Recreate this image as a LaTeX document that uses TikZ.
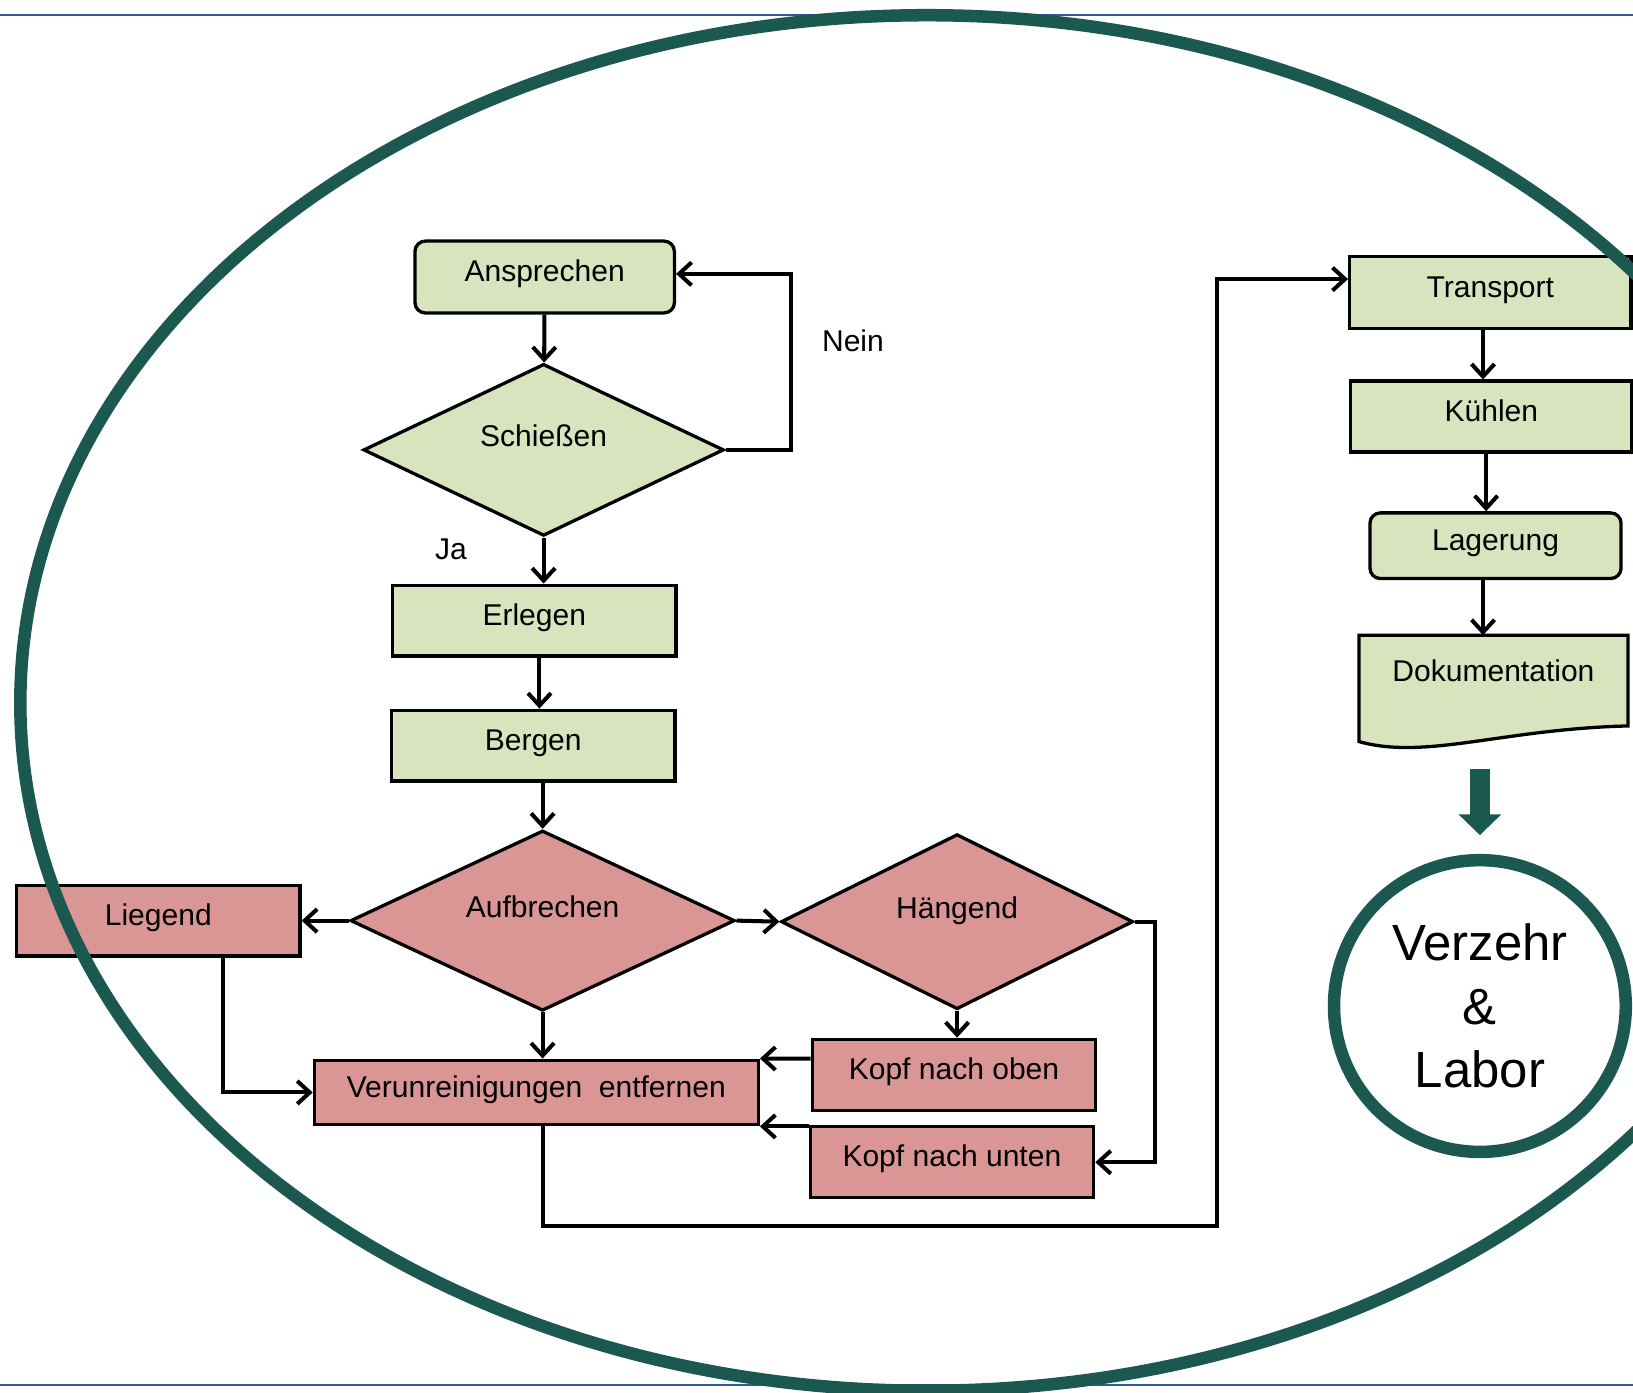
\documentclass[tikz,border=0pt]{standalone}
\usepackage{fontspec}
\setmainfont{Liberation Sans}
\usepackage{tikz}
\usetikzlibrary{shapes.geometric, arrows.meta, positioning, backgrounds}
\definecolor{boxgreen}{RGB}{215,228,189}
\definecolor{boxred}{RGB}{217,150,148}
\definecolor{rimgreen}{RGB}{27,88,80}
\definecolor{ruleblue}{RGB}{47,87,160}
\tikzset{x=0.01cm, y=-0.01cm,    % one unit is one pixel of the slide
         every node/.style={font=\fontsize{8.2}{9.8}\selectfont},
         box/.style={            % plain process step
           draw, line width=0.9pt, inner sep=0pt,
           minimum width=2.72cm, minimum height=0.68cm,
           text height=0.75em, text depth=0.5em},
         roundbox/.style={box, rounded corners=0.1cm},
         decision/.style={       % question, text sits high
           diamond, draw, line width=0.9pt, inner sep=0pt, shape aspect=2,
           text height=0.75em, text depth=0.93em},
         greenfill/.style={fill=boxgreen},
         redfill/.style={fill=boxred},
         flow/.style={           % ordinary connector
           draw, line width=1.1pt,
           -{Straight Barb[length=0.12cm,width=0.22cm]}},
         bigarrow/.style={
           draw=rimgreen, line width=0.19cm,
           -{Triangle[length=0.2cm,width=0.4cm]}},
         rim/.style={draw=rimgreen, line width=0.12cm}}

\begin{document}
\begin{tikzpicture}
\useasboundingbox (0,0) rectangle (1568,1337);
\clip (0,0) rectangle (1568,1337);
\draw[ruleblue, line width=0.02cm] (0,14) -- (1568,14) (0,1330) -- (1568,1330);

\node[roundbox, greenfill, minimum width=2.49cm, minimum height=0.69cm] (ansprechen) at (523,266) {Ansprechen};
\node[decision, greenfill, minimum width=3.46cm, minimum height=1.65cm] (schiessen) at (522,432) {Schießen};
\node[box, greenfill] (erlegen) at (513,596) {Erlegen};
\node[box, greenfill] (bergen) at (512,716) {Bergen};
\node[decision, redfill, minimum width=3.69cm, minimum height=1.73cm] (aufbrechen) at (521,884) {Aufbrechen};
\node[box, redfill] (liegend) at (152,884) {Liegend};
\node[decision, redfill, minimum width=3.38cm, minimum height=1.68cm] (haengend) at (919,885) {Hängend};
\node[box, redfill] (kopfoben) at (916,1032) {Kopf nach oben};
\node[box, redfill] (kopfunten) at (914,1116) {Kopf nach unten};
\node[box, redfill, minimum width=4.26cm, minimum height=0.62cm] (verunreinigung) at (515,1049) {Verunreinigungen\ \ entfernen};
\node[box, greenfill, minimum width=2.7cm, minimum height=0.69cm] (transport) at (1431,281) {Transport};
\node[box, greenfill, minimum width=2.7cm] (kuehlen) at (1432,400) {Kühlen};
\node[roundbox, greenfill, minimum width=2.41cm, minimum height=0.63cm] (lagerung) at (1436,524) {Lagerung};
\node[box, draw=none, minimum width=2.55cm, minimum height=0.76cm, anchor=north] (doku) at (1434,610) {Dokumentation};
\node[circle, rim, minimum size=2.8cm, inner sep=0pt, align=center,
      font=\fontsize{13.9}{17.4}\selectfont] (verzehr) at (1421,966) {Verzehr\\\&\\Labor};
\node (nein) at (819,327) {Nein};
\node (ja) at (433,527) {Ja};
\coordinate (bend) at (1169,1177);

\begin{scope}[on background layer]
\draw[greenfill, line width=0.9pt] (doku.north west) -- ([yshift=-1.02cm]doku.north west)
  .. controls +(64,18) and +(-121,3) .. ([yshift=-0.87cm]doku.north east) -- (doku.north east) -- cycle;
\end{scope}

\draw[flow] (ansprechen) -- (schiessen);
\draw[flow] (schiessen.east) -- ++(63,0) |- ([yshift=0.03cm]ansprechen.east);
\draw[flow] (schiessen.south) -- (schiessen.south |- erlegen.north);
\draw[flow] ([xshift=0.05cm]erlegen.south) -- ([xshift=0.05cm]erlegen.south |- bergen.north);
\draw[flow] (bergen.south -| aufbrechen.north) -- (aufbrechen.north);
\draw[flow] (aufbrechen.west) -- (liegend.east);
\draw[flow] (aufbrechen.east) -- (haengend.west);
\draw[flow] (aufbrechen.south) -- (aufbrechen.south |- verunreinigung.north);
\draw[flow] ([xshift=0.62cm]liegend.south) |- (verunreinigung.west);
\draw[flow] (haengend.south) -- (haengend.south |- kopfoben.north);
\draw[flow] (haengend.east) -- ++(19,0) |- (kopfunten.east);
\draw[flow] ([yshift=-0.2cm]kopfoben.north west) -- (verunreinigung.north east);
\draw[flow] (kopfunten.north west |- verunreinigung.south east) -- (verunreinigung.south east);
\draw[flow] (aufbrechen.south |- verunreinigung.south) |- (bend) |- ([yshift=0.13cm]transport.west);
\draw[flow] ([xshift=-0.07cm]transport.south) -- ([xshift=-0.07cm]transport.south |- kuehlen.north);
\draw[flow] ([xshift=-0.05cm]kuehlen.south) -- ([xshift=-0.05cm]kuehlen.south |- lagerung.north);
\draw[flow] ([xshift=-0.12cm]lagerung.south) -- ([xshift=-0.12cm]lagerung.south |- doku.north);
\draw[bigarrow, shorten <=0.49cm, shorten >=0.18cm] (verzehr.north |- doku.south) -- (verzehr.north);

\draw[rim] (890,675) ellipse [x radius=8.7cm, y radius=6.6cm];
\end{tikzpicture}
\end{document}
